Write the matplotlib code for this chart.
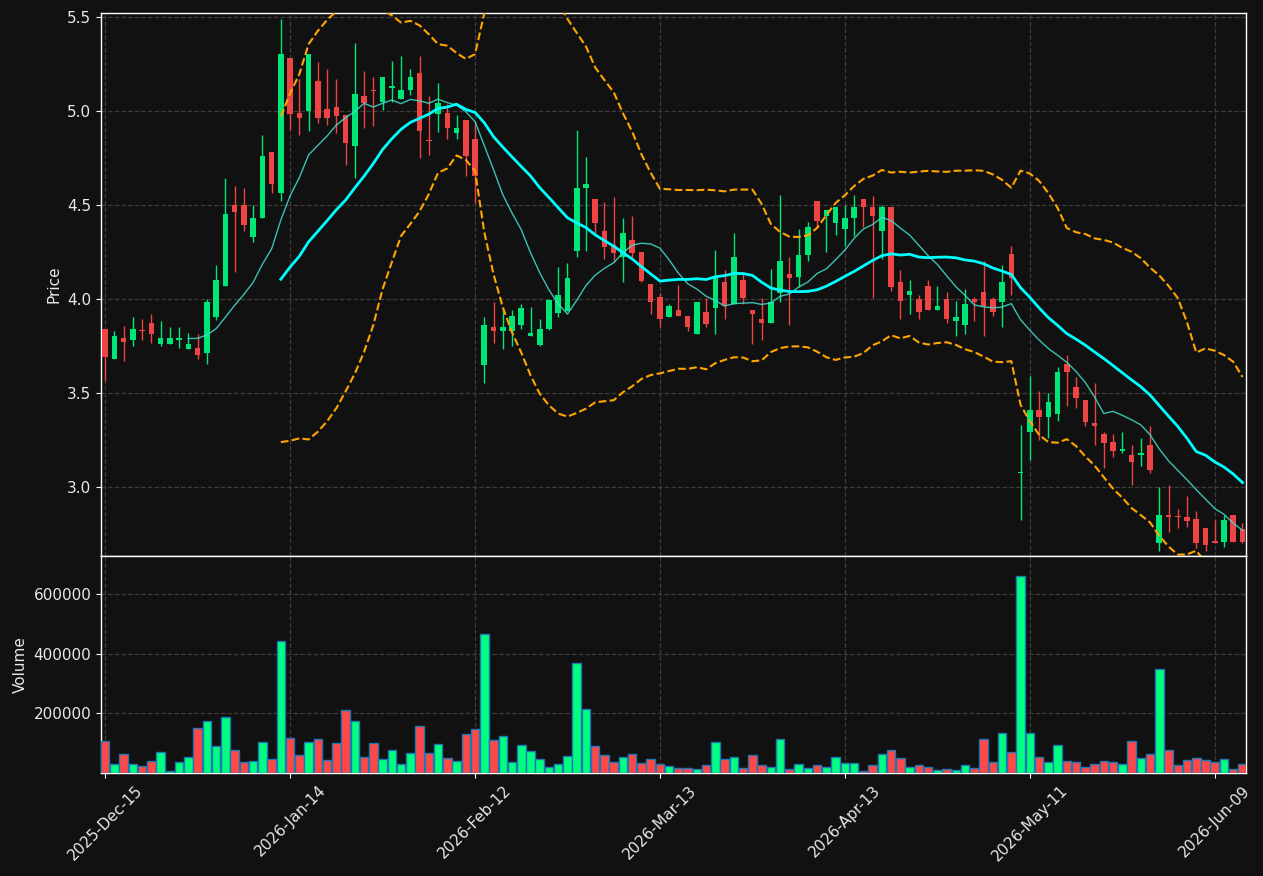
import numpy as np
import pandas as pd
import matplotlib
matplotlib.use("Agg")
import matplotlib.pyplot as plt

# ---- data ----
opens = [3.841, 3.677, 3.793, 3.778, 3.832, 3.873, 3.757, 3.757, 3.778, 3.731,
         3.735, 3.709, 3.901, 4.065, 4.500, 4.500, 4.326, 4.427, 4.782, 4.560,
         5.282, 4.989, 4.996, 5.160, 5.011, 5.021, 4.976, 4.813, 5.080, 5.112,
         5.049, 5.119, 5.065, 5.108, 5.201, 4.843, 4.981, 4.987, 4.879, 4.951,
         4.851, 3.649, 3.851, 3.827, 3.827, 3.858, 3.800, 3.756, 3.841, 3.922,
         3.937, 4.256, 4.590, 4.532, 4.362, 4.284, 4.220, 4.313, 4.250, 4.080,
         4.011, 3.901, 3.942, 3.910, 3.810, 3.931, 3.950, 4.091, 3.970, 4.101,
         3.942, 3.894, 3.869, 4.030, 4.132, 4.118, 4.231, 4.521, 4.440, 4.401,
         4.369, 4.427, 4.530, 4.489, 4.358, 4.489, 4.091, 4.019, 4.000, 4.069,
         3.938, 4.000, 3.881, 3.858, 4.000, 4.034, 4.000, 3.981, 4.239, 3.071,
         3.289, 3.410, 3.369, 3.388, 3.653, 3.530, 3.463, 3.340, 3.280, 3.235,
         3.188, 3.170, 3.166, 3.224, 2.700, 2.851, 2.841, 2.841, 2.827, 2.782,
         2.713, 2.707, 2.851, 2.774]
highs = [3.841, 3.830, 3.854, 3.903, 3.892, 3.918, 3.879, 3.849, 3.849, 3.817,
         3.810, 3.996, 4.179, 4.642, 4.599, 4.590, 4.498, 4.871, 4.782, 5.487,
         5.282, 5.168, 5.304, 5.259, 5.222, 5.168, 4.976, 5.360, 5.211, 5.179,
         5.181, 5.265, 5.291, 5.222, 5.291, 5.080, 5.147, 5.034, 4.978, 4.951,
         4.940, 3.903, 3.983, 3.951, 3.938, 3.974, 3.955, 3.892, 3.996, 4.170,
         4.190, 4.897, 4.754, 4.532, 4.515, 4.541, 4.429, 4.442, 4.250, 4.080,
         4.030, 3.974, 4.073, 3.910, 3.985, 4.004, 4.259, 4.153, 4.349, 4.132,
         3.942, 4.004, 4.159, 4.552, 4.222, 4.371, 4.409, 4.521, 4.474, 4.487,
         4.498, 4.552, 4.530, 4.549, 4.498, 4.489, 4.153, 4.099, 4.019, 4.099,
         4.065, 4.034, 3.987, 4.052, 4.009, 4.200, 4.009, 4.179, 4.280, 3.328,
         3.590, 3.507, 3.496, 3.634, 3.700, 3.584, 3.463, 3.552, 3.289, 3.280,
         3.291, 3.224, 3.261, 3.325, 3.000, 3.009, 2.882, 2.950, 2.871, 2.782,
         2.825, 2.851, 2.851, 2.804]
lows = [3.562, 3.677, 3.668, 3.748, 3.780, 3.765, 3.748, 3.757, 3.739, 3.731,
        3.677, 3.653, 3.884, 4.065, 4.142, 4.360, 4.302, 4.427, 4.562, 4.521,
        4.899, 4.871, 4.892, 4.935, 4.922, 4.881, 4.711, 4.642, 4.907, 4.918,
        5.004, 5.049, 5.065, 5.086, 4.748, 4.767, 4.886, 4.851, 4.847, 4.653,
        4.511, 3.554, 3.765, 3.733, 3.748, 3.840, 3.800, 3.746, 3.836, 3.901,
        3.937, 4.220, 4.256, 4.343, 4.209, 4.196, 4.088, 4.220, 4.088, 3.918,
        3.849, 3.901, 3.907, 3.828, 3.810, 3.849, 3.810, 3.890, 3.970, 3.970,
        3.759, 3.780, 3.869, 3.985, 3.858, 4.063, 4.200, 4.381, 4.250, 4.341,
        4.282, 4.332, 4.381, 4.006, 4.213, 4.041, 3.892, 3.918, 3.892, 3.938,
        3.938, 3.871, 3.802, 3.812, 3.881, 3.802, 3.910, 3.849, 4.019, 2.823,
        3.144, 3.248, 3.257, 3.349, 3.429, 3.416, 3.323, 3.220, 3.099, 3.157,
        3.179, 3.009, 3.110, 3.075, 2.660, 2.761, 2.781, 2.785, 2.672, 2.660,
        2.700, 2.681, 2.707, 2.700]
closes = [3.688, 3.804, 3.769, 3.841, 3.827, 3.810, 3.793, 3.793, 3.793, 3.761,
          3.700, 3.985, 4.101, 4.451, 4.459, 4.390, 4.431, 4.761, 4.608, 5.304,
          4.981, 4.959, 5.304, 4.959, 4.959, 4.970, 4.826, 5.091, 5.041, 5.106,
          5.181, 5.132, 5.112, 5.181, 4.890, 4.838, 5.043, 4.907, 4.910, 4.757,
          4.653, 3.862, 3.827, 3.851, 3.910, 3.951, 3.819, 3.841, 3.991, 4.021,
          4.112, 4.591, 4.612, 4.405, 4.276, 4.244, 4.351, 4.244, 4.095, 3.981,
          3.890, 3.963, 3.907, 3.847, 3.985, 3.868, 4.112, 3.961, 4.224, 4.006,
          3.916, 3.869, 3.985, 4.201, 4.108, 4.235, 4.382, 4.416, 4.474, 4.487,
          4.431, 4.489, 4.487, 4.438, 4.489, 4.060, 3.987, 4.043, 3.929, 3.938,
          3.963, 3.890, 3.903, 3.974, 3.981, 3.961, 3.927, 4.091, 4.110, 3.078,
          3.410, 3.369, 3.451, 3.612, 3.608, 3.470, 3.345, 3.321, 3.231, 3.188,
          3.201, 3.131, 3.181, 3.088, 2.851, 2.838, 2.838, 2.819, 2.700, 2.690,
          2.700, 2.825, 2.707, 2.707]
volumes = [106700, 29200, 62900, 29200, 22500, 39300, 69700, 5600, 36000, 52800,
           150600, 174200, 89900, 187600, 76400, 36000, 39300, 103400, 46100, 443800,
           116900, 59600, 103400, 113500, 42700, 100000, 211200, 174200, 52800, 100000,
           46100, 76400, 29200, 66300, 157300, 66300, 96600, 49400, 39300, 130300,
           147200, 467400, 110100, 123600, 36000, 93300, 73000, 46100, 19100, 29200,
           56200, 369700, 214600, 89900, 59600, 36000, 52800, 62900, 32600, 46100,
           29200, 22500, 15700, 15700, 12400, 25800, 103400, 46100, 52800, 15700,
           59600, 25800, 19100, 113500, 12400, 29200, 15700, 25800, 19100, 52800,
           32600, 32600, 5600, 25800, 62900, 76400, 49400, 19100, 25800, 19100,
           9000, 12400, 9000, 25800, 15700, 113500, 36000, 133700, 69700, 662900,
           133700, 52800, 36000, 93300, 39300, 36000, 19100, 29200, 39300, 36000,
           29200, 106700, 49400, 62900, 349400, 76400, 25800, 42700, 49400, 42700,
           36000, 46100, 12400, 29200]
tick_positions = [0, 20, 40, 60, 80, 100, 120]
tick_labels = ["2025-Dec-15", "2026-Jan-14", "2026-Feb-12", "2026-Mar-13",
               "2026-Apr-13", "2026-May-11", "2026-Jun-09"]

# ---- styling ----
BG = "#111111"
UP_C, DN_C = "#00e676", "#ef4444"
VUP_C, VDN_C = "#00ff80", "#ff4848"
GRID = dict(color="#3c3c3c", linestyle="--", linewidth=0.9)
TXT = "#e8e8e8"

plt.rcParams["font.family"] = ["DejaVu Sans"]

o = np.array(opens); h = np.array(highs); l = np.array(lows); c = np.array(closes)
v = np.array(volumes)
x = np.arange(len(c))
up = c >= o

cs = pd.Series(c)
ma10 = cs.rolling(10).mean()
ma20 = cs.rolling(20).mean()
sd20 = cs.rolling(20).std(ddof=0)
bb_up = ma20 + 2 * sd20
bb_dn = ma20 - 2 * sd20

W, H = 1263, 876
fig = plt.figure(figsize=(W / 100, H / 100), dpi=100, facecolor=BG)
ax = fig.add_axes([101 / W, 1 - 556 / H, (1246 - 101) / W, (556 - 13) / H])
axv = fig.add_axes([101 / W, 1 - 773 / H, (1246 - 101) / W, (773 - 556) / H], sharex=ax)

for a in (ax, axv):
    a.set_facecolor(BG)
    for s in a.spines.values():
        s.set_color("white")
        s.set_linewidth(1.0)
    a.tick_params(colors="white", labelcolor=TXT, labelsize=11)
    a.grid(True, **GRID)
    a.set_axisbelow(True)

# candles
colors = [UP_C if u else DN_C for u in up]
ax.vlines(x, l, h, colors=colors, linewidth=1.0, zorder=2)
body = np.maximum(np.abs(c - o), 0.005)
ax.bar(x, body, bottom=np.minimum(o, c), width=0.6, color=colors, linewidth=0, zorder=3)

# indicators
ax.plot(x, ma10, color="#40E0D0", linewidth=1.0, alpha=0.85, zorder=4)
ax.plot(x, ma20, color="#00FFFF", linewidth=2.0, zorder=4)
ax.plot(x, bb_up, color="orange", linestyle="--", linewidth=1.5, zorder=4)
ax.plot(x, bb_dn, color="orange", linestyle="--", linewidth=1.5, zorder=4)

ax.set_ylim(2.631, 5.52)
ax.set_yticks([3.0, 3.5, 4.0, 4.5, 5.0, 5.5])
ax.set_yticklabels(["3.0", "3.5", "4.0", "4.5", "5.0", "5.5"])
ax.set_ylabel("Price", color=TXT, fontsize=11)
ax.tick_params(axis="x", bottom=False, labelbottom=False)

# volume
vcolors = [VUP_C if u else VDN_C for u in up]
axv.bar(x, v, width=0.92, color=vcolors, edgecolor="#1f77b4", linewidth=1.0, zorder=3)
axv.set_ylim(0, v.max() * 1.1)
axv.set_yticks([200000, 400000, 600000])
axv.set_yticklabels(["200000", "400000", "600000"])
axv.set_ylabel("Volume", color=TXT, fontsize=11)

axv.set_xlim(-0.45, len(c) - 1 + 0.38)
axv.set_xticks(tick_positions)
axv.set_xticklabels(tick_labels, rotation=45)

fig.savefig("out.png", dpi=100, facecolor=BG)
